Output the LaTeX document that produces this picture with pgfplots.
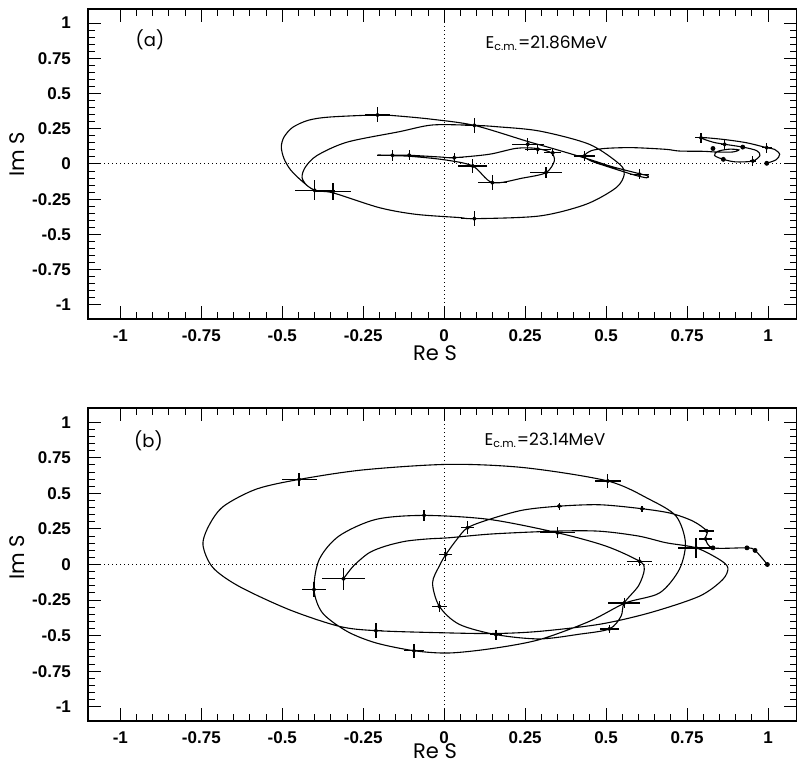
\documentclass[border=0pt]{standalone}
\usepackage{pgfplots}
\pgfplotsset{compat=1.18}
\usepackage{fontspec}
\setmainfont{Liberation Sans}
\newfontfamily\agfont{Poppins}
\pgfplotsset{
  argand/.style={
    scale only axis, anchor=south west,
    xmin=-1.1, xmax=1.088, ymin=-1.1, ymax=1.1,
    xtick={-1,-0.75,-0.5,-0.25,0,0.25,0.5,0.75,1},
    ytick={-1,-0.75,-0.5,-0.25,0,0.25,0.5,0.75,1},
    minor tick num=4,
    tick align=inside,
    major tick length=6.5pt, minor tick length=3.5pt,
    tick style={line width=0.5pt, black},
    axis line style={line width=0.8pt},
    /pgf/number format/assume math mode=true,
    tick label style={font=\bfseries\fontsize{8.5}{10}\selectfont},
    yticklabel style={xshift=-5pt},
    xticklabel style={yshift=-2pt},
    clip=true,
  },
  curve/.style={black, line width=0.55pt, smooth, tension=0.5, mark=none},
  crosses/.style={black, only marks, mark=*, mark size=0.9pt,
    error bars/.cd, x dir=both, x explicit, y dir=both, y explicit,
    error mark=none, error bar style={line width=0.65pt, black}},
  dots/.style={black, only marks, mark=*, mark size=1pt},
  zeroline/.style={black, dash pattern=on 0.6pt off 1.4pt, line width=0.5pt},
}
\begin{document}
\begin{tikzpicture}
\useasboundingbox (0,0) rectangle (398.5pt,383pt);
% ---------------- panel (a) ----------------
\begin{axis}[argand, at={(44pt,223.5pt)}, width=354.25pt, height=155pt]
\addplot[zeroline] coordinates {(-1.1,0) (1.09,0)};
\addplot[zeroline] coordinates {(0,-1.1) (0,1.1)};
\addplot[curve] coordinates {
(0.996,0.005) (1.025,0.03) (1.036,0.069) (1.02,0.104) (0.996,0.116)
(0.933,0.151) (0.86,0.175) (0.793,0.187) (0.83,0.155) (0.866,0.14)
(0.922,0.12) (0.965,0.095) (0.975,0.06) (0.953,0.021) (0.90,0.015)
(0.862,0.033) (0.835,0.06) (0.845,0.09) (0.88,0.105) (0.91,0.10)
(0.89,0.085) (0.84,0.085) (0.80,0.09) (0.726,0.092) (0.685,0.104)
(0.582,0.116) (0.5,0.111) (0.455,0.095) (0.433,0.057) (0.455,0.02)
(0.531,-0.038) (0.59,-0.08) (0.625,-0.098) (0.63,-0.085) (0.605,-0.07)
(0.52,-0.02) (0.448,0.033) (0.335,0.11) (0.258,0.16) (0.093,0.274)
(-0.036,0.317) (-0.139,0.34) (-0.206,0.348) (-0.355,0.333) (-0.42,0.31)
(-0.468,0.26) (-0.495,0.19) (-0.503,0.12) (-0.495,0.04) (-0.475,-0.04)
(-0.44,-0.12) (-0.40,-0.187) (-0.343,-0.205)
(-0.2,-0.31) (-0.088,-0.357) (0.046,-0.38) (0.093,-0.388) (0.294,-0.369)
(0.438,-0.286) (0.531,-0.168) (0.556,-0.073) (0.541,0.0) (0.448,0.14)
(0.294,0.234) (0.16,0.265) (0.093,0.274) (-0.036,0.277) (-0.139,0.229)
(-0.30,0.155) (-0.393,0.06) (-0.429,-0.023) (-0.439,-0.094) (-0.425,-0.15)
(-0.40,-0.187)
};
\addplot[curve] coordinates {
(-0.206,0.064) (-0.16,0.062) (-0.108,0.062) (-0.015,0.05) (0.031,0.045)
(0.139,0.069) (0.222,0.111) (0.283,0.111) (0.33,0.08) (0.34,0.021)
(0.314,-0.062) (0.242,-0.1) (0.149,-0.132) (0.088,-0.014) (0.0,0.03)
(-0.108,0.055) (-0.16,0.058)
};
\addplot[crosses] table[x=x, y=y, x error=ex, y error=ey] {
x y ex ey
-0.206 0.348 0.04 0.053
-0.40 -0.187 0.062 0.07
-0.343 -0.195 0.054 0.06
-0.16 0.062 0.046 0.038
-0.108 0.062 0.03 0.035
0.031 0.045 0.026 0.035
0.088 -0.014 0.044 0.053
0.149 -0.132 0.046 0.053
0.314 -0.062 0.05 0.04
0.093 0.274 0.03 0.053
0.093 -0.388 0.04 0.053
0.258 0.14 0.049 0.047
0.289 0.104 0.04 0.03
0.335 0.08 0.026 0.025
0.433 0.057 0.033 0.035
0.603 -0.073 0.028 0.035
0.793 0.187 0.02 0.035
0.866 0.14 0.01 0.04
0.996 0.116 0.015 0.035
0.953 0.021 0.01 0.035
};
\addplot[dots] coordinates {(0.862,0.033) (0.922,0.12) (0.83,0.11) (0.996,0.005)};
\end{axis}
\node[font=\agfont\fontsize{10.5}{12}\selectfont] at (217.5pt,206.5pt) {Re S};
\node[font=\agfont\fontsize{10.5}{12}\selectfont, rotate=90] at (8.75pt,305.75pt) {Im S};
\node[font=\agfont\fontsize{9}{10}\selectfont] at (75pt,363pt) {(a)};
\node[font=\agfont\fontsize{8.5}{10}\selectfont] at (273.25pt,361.25pt) {E$_{\mbox{\agfont\fontsize{5.5}{6}\selectfont c.m.}}$=21.86MeV};
% ---------------- panel (b) ----------------
\begin{axis}[argand, at={(44pt,22.5pt)}, width=354.25pt, height=156.5pt]
\addplot[zeroline] coordinates {(-1.1,0) (1.09,0)};
\addplot[zeroline] coordinates {(0,-1.1) (0,1.1)};
\addplot[curve] coordinates {
(-0.311,-0.10) (-0.28,-0.01) (-0.232,0.082) (-0.18,0.13) (-0.118,0.164)
(-0.05,0.18) (0.015,0.188) (0.15,0.215) (0.35,0.235) (0.48,0.234)
(0.60,0.20) (0.685,0.153) (0.778,0.117) (0.85,0.035) (0.876,-0.023)
(0.86,-0.106) (0.788,-0.223) (0.634,-0.34) (0.48,-0.42) (0.294,-0.47)
(0.16,-0.485) (0.015,-0.481) (-0.211,-0.465) (-0.325,-0.434) (-0.479,-0.317)
(-0.634,-0.153) (-0.715,-0.02) (-0.745,0.14) (-0.725,0.28) (-0.681,0.41)
(-0.58,0.53) (-0.448,0.598) (-0.25,0.665) (0.015,0.704) (0.25,0.68)
(0.505,0.587) (0.634,0.458) (0.716,0.34) (0.745,0.153) (0.726,-0.035)
(0.665,-0.2) (0.56,-0.27) (0.448,-0.40) (0.294,-0.528) (0.15,-0.59)
(0.015,-0.622) (-0.093,-0.606) (-0.211,-0.551) (-0.30,-0.47) (-0.376,-0.34)
(-0.402,-0.176) (-0.386,0.035) (-0.325,0.2) (-0.211,0.317) (-0.062,0.345)
(0.139,0.317) (0.35,0.223) (0.5,0.129) (0.603,0.023) (0.618,-0.035)
(0.60,-0.15) (0.556,-0.27) (0.546,-0.364) (0.51,-0.453) (0.417,-0.49)
(0.294,-0.523) (0.16,-0.493) (0.046,-0.42) (-0.015,-0.294) (-0.036,-0.13)
(-0.015,-0.01) (0.005,0.07) (0.039,0.176) (0.072,0.258) (0.139,0.317)
(0.242,0.382) (0.355,0.41) (0.48,0.42) (0.611,0.392) (0.70,0.36)
(0.768,0.305) (0.811,0.235) (0.807,0.18) (0.83,0.117) (0.935,0.117)
(0.96,0.099) (0.998,0.0)
};
\addplot[crosses] table[x=x, y=y, x error=ex, y error=ey] {
x y ex ey
-0.311 -0.10 0.065 0.077
-0.402 -0.176 0.036 0.05
-0.448 0.598 0.054 0.045
-0.211 -0.465 0.02 0.053
-0.093 -0.606 0.03 0.05
-0.062 0.345 0.044 0.04
-0.015 -0.294 0.024 0.04
0.005 0.07 0.02 0.045
0.072 0.258 0.02 0.045
0.16 -0.493 0.02 0.035
0.35 0.223 0.054 0.04
0.355 0.41 0.01 0.025
0.505 0.587 0.04 0.05
0.51 -0.453 0.03 0.03
0.556 -0.27 0.05 0.035
0.603 0.023 0.04 0.03
0.611 0.392 0.01 0.02
0.778 0.117 0.057 0.07
0.811 0.235 0.023 0.005
0.807 0.18 0.02 0.005
};
\addplot[dots] coordinates {(0.83,0.117) (0.935,0.117) (0.96,0.099) (0.998,0.0)};
\end{axis}
\node[font=\agfont\fontsize{10.5}{12}\selectfont] at (217.5pt,7.5pt) {Re S};
\node[font=\agfont\fontsize{10.5}{12}\selectfont, rotate=90] at (8.75pt,104.25pt) {Im S};
\node[font=\agfont\fontsize{9}{10}\selectfont] at (74.25pt,162.75pt) {(b)};
\node[font=\agfont\fontsize{8.5}{10}\selectfont] at (272.5pt,162.75pt) {E$_{\mbox{\agfont\fontsize{5.5}{6}\selectfont c.m.}}$=23.14MeV};
\end{tikzpicture}
\end{document}
